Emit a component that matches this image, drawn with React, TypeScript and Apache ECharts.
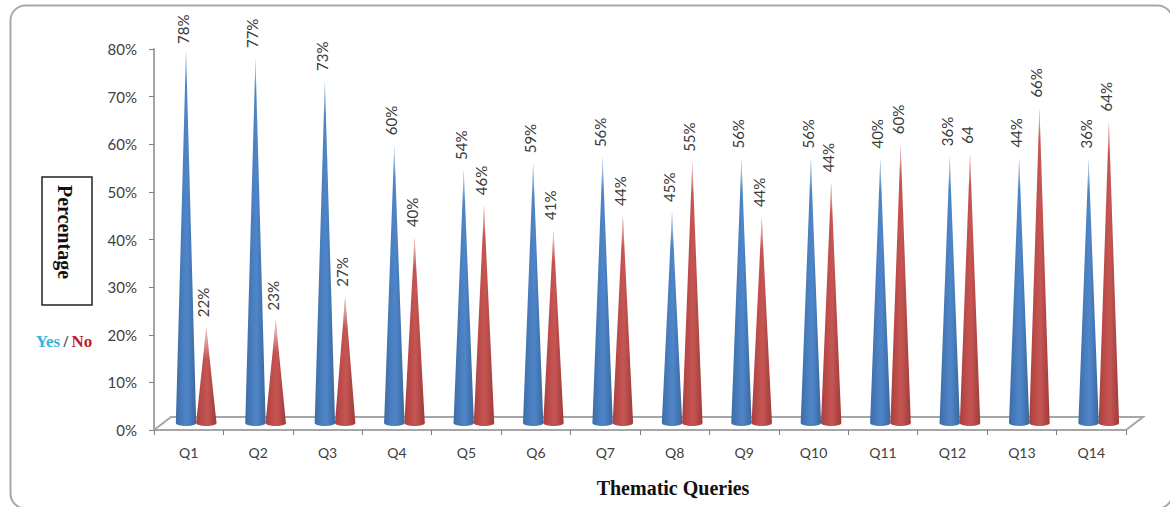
import React, { useEffect, useRef } from "react";
import * as echarts from "echarts";

const categories = ["Q1","Q2","Q3","Q4","Q5","Q6","Q7","Q8","Q9","Q10","Q11","Q12","Q13","Q14"];
// Labels printed above the cones
const yesLabels = ["78%","77%","73%","60%","54%","59%","56%","45%","56%","56%","40%","36%","44%","36%"];
const noLabels = ["22%","23%","27%","40%","46%","41%","44%","55%","44%","44%","60%","64","66%","64%"];
// Drawn cone heights (they differ from the printed labels in places)
const yesHeights = [79.8,78.1,73.3,59.8,54.6,56,57.3,45.8,57,57,57,57.5,57.2,57];
const noHeights = [21.6,23,28,40.5,47.2,42,45,56.3,44.7,52,60,58,67.7,64.8];
const yTicks = { min: 0, max: 80, interval: 10 };

const LABEL_FONT = "Lato, 'Open Sans', sans-serif";
const SERIF = "'Liberation Serif', 'Times New Roman', serif";

const coneGradient = (edgeL: string, mid: string, hi: string, edgeR: string) => ({
  type: "linear", x: 0, y: 0, x2: 1, y2: 0,
  colorStops: [
    { offset: 0, color: edgeL },
    { offset: 0.35, color: mid },
    { offset: 0.55, color: hi },
    { offset: 1, color: edgeR },
  ],
});

const coneSeries = (name: string, heights: number[], labels: string[], dx: number, grad: any, tipGrad: string) => ({
  type: "custom",
  name,
  silent: true,
  clip: false,
  data: heights.map((h, i) => [i, h]),
  encode: { x: 0, y: 1 },
  renderItem: (params: any, api: any) => {
    const i = api.value(0);
    const tip = api.coord([i, api.value(1)]);
    const base = api.coord([i, 0]);
    const cx = base[0] + dx;
    const by = base[1] - 7;
    const hw = 10.2;
    const fade = Math.min(tip[1] + 32, by);
    const labelBottom = Math.max(tip[1] - 10, 44);
    return {
      type: "group",
      children: [
        { type: "ellipse", shape: { cx, cy: by, rx: hw, ry: 3 }, style: { fill: grad } },
        { type: "polygon", shape: { points: [[cx - hw, by], [cx, tip[1]], [cx + hw, by]] }, style: { fill: grad } },
        {
          type: "polygon",
          shape: { points: [[cx - (hw * (fade - tip[1])) / (by - tip[1]), fade], [cx, tip[1]], [cx + (hw * (fade - tip[1])) / (by - tip[1]), fade]] },
          style: {
            fill: {
              type: "linear", x: 0, y: 0, x2: 0, y2: 1,
              colorStops: [{ offset: 0, color: "rgba(255,255,255,0.75)" }, { offset: 1, color: tipGrad }],
            },
          },
        },
        {
          type: "text",
          x: cx - 3,
          y: labelBottom,
          rotation: Math.PI / 2,
          style: {
            text: labels[params.dataIndex],
            textAlign: "left",
            textVerticalAlign: "middle",
            font: `15px ${LABEL_FONT}`,
            fill: "#3a3a3a",
          },
        },
      ],
    };
  },
});

export default function App() {
  const ref = useRef<HTMLDivElement>(null);
  useEffect(() => {
    const chart = echarts.init(ref.current!, undefined, { renderer: "svg" });
    chart.setOption({
      animation: false,
      backgroundColor: "#ffffff",
      grid: { left: 154, right: 44, top: 49, bottom: 77, containLabel: false },
      xAxis: {
        type: "category",
        data: categories,
        boundaryGap: true,
        axisLine: { lineStyle: { color: "#a6a6a6", width: 2 } },
        axisTick: { show: true, length: 5, alignWithLabel: false, lineStyle: { color: "#808080", width: 1 } },
        axisLabel: { interval: 0, color: "#404040", fontFamily: LABEL_FONT, fontSize: 14, margin: 15 },
        splitLine: { show: false },
      },
      yAxis: {
        type: "value",
        ...yTicks,
        axisLine: { show: true, lineStyle: { color: "#a6a6a6", width: 2 } },
        axisTick: { show: true, length: 5, lineStyle: { color: "#808080", width: 1 } },
        axisLabel: { formatter: "{value}%", color: "#404040", fontFamily: LABEL_FONT, fontSize: 15, margin: 17 },
        splitLine: { show: false },
      },
      graphic: [
        {
          type: "rect", z: -10, silent: true,
          shape: { x: 10.5, y: 5.5, width: 1162, height: 503, r: 15 },
          style: { fill: "none", stroke: "#a8a8a8", lineWidth: 2 },
        },
        {
          type: "polyline", z: -5, silent: true,
          shape: { points: [[154, 430], [171, 417], [1143, 417], [1126, 430]] },
          style: { fill: "none", stroke: "#a6a6a6", lineWidth: 2 },
        },
        {
          type: "rect", silent: true,
          shape: { x: 42, y: 177, width: 50, height: 128 },
          style: { fill: "#ffffff", stroke: "#222222", lineWidth: 1.5 },
        },
        {
          type: "text", silent: true,
          x: 65, y: 232, rotation: -Math.PI / 2,
          style: {
            text: "Percentage", textAlign: "center", textVerticalAlign: "middle",
            font: `bold 20px ${SERIF}`, fill: "#111111",
          },
        },
        {
          type: "text", silent: true,
          x: 64, y: 341,
          style: {
            text: "{y|Yes} {s|/} {n|No}", textAlign: "center", textVerticalAlign: "middle",
            rich: {
              y: { fontSize: 17, fontWeight: "bold", fontFamily: SERIF, fill: "#2fb5dc", color: "#2fb5dc" },
              s: { fontSize: 17, fontWeight: "bold", fontFamily: SERIF, fill: "#444444", color: "#444444" },
              n: { fontSize: 17, fontWeight: "bold", fontFamily: SERIF, fill: "#c3172b", color: "#c3172b" },
            },
          },
        },
        {
          type: "text", silent: true,
          x: 673, y: 488,
          style: {
            text: "Thematic Queries", textAlign: "center", textVerticalAlign: "middle",
            font: `bold 20px ${SERIF}`, fill: "#111111",
          },
        },
      ],
      series: [
        coneSeries("Yes", yesHeights, yesLabels, -2.7, coneGradient("#3d6ca8", "#4a7ebf", "#4f86c9", "#3a679f"), "rgba(255,255,255,0)"),
        coneSeries("No", noHeights, noLabels, 17.6, coneGradient("#a83f3d", "#c04f4c", "#c55653", "#9f3a38"), "rgba(255,255,255,0)"),
      ],
    });
    return () => chart.dispose();
  }, []);
  return <div ref={ref} style={{ position: "absolute", left: 0, top: 0, width: 1170, height: 507 }} />;
}
